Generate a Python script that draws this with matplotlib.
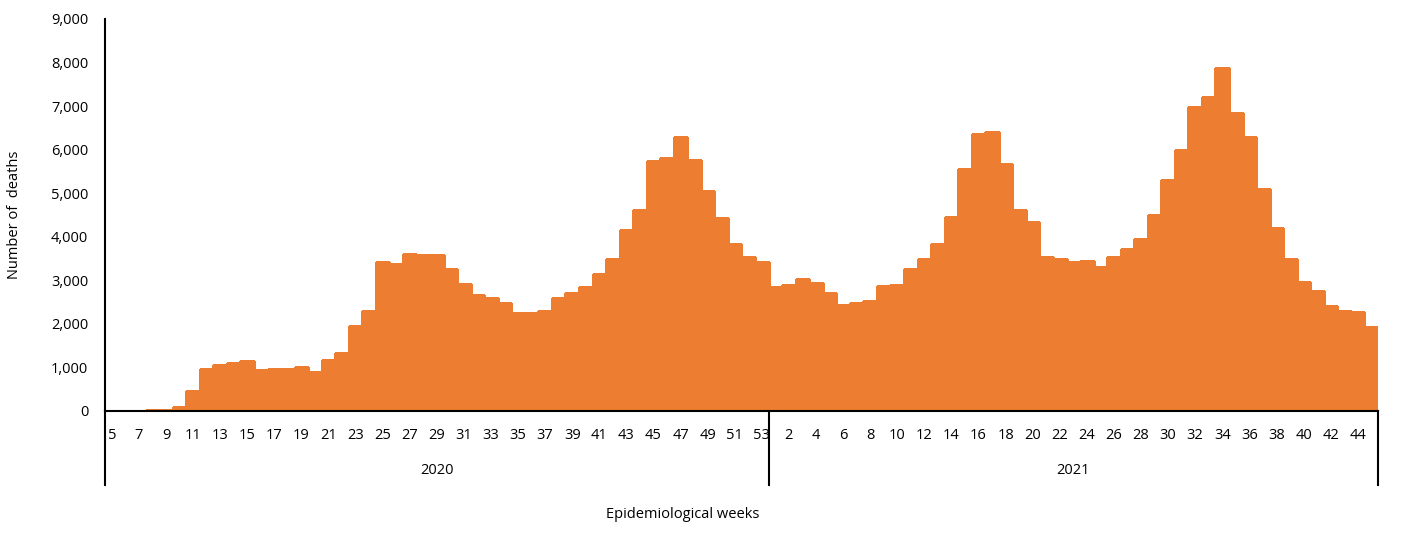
import matplotlib
matplotlib.use("Agg")
import matplotlib.pyplot as plt
from matplotlib.transforms import blended_transform_factory
from matplotlib.ticker import FuncFormatter

plt.rcParams['font.family'] = ['Open Sans', 'DejaVu Sans']

weeks_2020 = list(range(5, 54))
deaths_2020 = [0, 0, 0, 20, 30, 85, 470, 960, 1050, 1110, 1140, 930, 975, 975, 1005,
               905, 1160, 1340, 1960, 2300, 3430, 3370, 3615, 3580, 3580, 3250, 2925,
               2670, 2605, 2470, 2260, 2240, 2305, 2605, 2700, 2840, 3135, 3500, 4165,
               4625, 5730, 5820, 6300, 5770, 5060, 4420, 3845, 3525, 3410]
weeks_2021 = list(range(1, 46))
deaths_2021 = [2840, 2885, 3020, 2950, 2720, 2445, 2470, 2515, 2860, 2885, 3250, 3480,
               3825, 4465, 5545, 6350, 6395, 5660, 4625, 4330, 3525, 3500, 3410, 3455,
               3315, 3525, 3730, 3960, 4510, 5315, 6000, 6990, 7220, 7885, 6850, 6300,
               5105, 4210, 3500, 2970, 2765, 2420, 2305, 2280, 1935]
years = ["2020", "2021"]
bar_color = "#ED7D31"

W, H = 1402, 537
fig = plt.figure(figsize=(W / 100, H / 100), dpi=100)
ax = fig.add_axes([105 / W, (H - 411) / H, (1378 - 105) / W, (411 - 19) / H])

values = deaths_2020 + deaths_2021
labels = [str(w) for w in weeks_2020] + [str(w) for w in weeks_2021]
xs = list(range(len(values)))
ax.bar(xs, values, width=1.0, color=bar_color, edgecolor=bar_color, linewidth=1.0,
       antialiased=False)

ax.set_xlim(-0.5, len(values) - 0.5)
ax.set_ylim(0, 9000)
ax.set_yticks(range(0, 9001, 1000))
ax.yaxis.set_major_formatter(FuncFormatter(lambda v, p: f"{int(v):,}"))

tick_pos = [i for i, w in enumerate(weeks_2020) if w % 2 == 1] + \
           [len(weeks_2020) + i for i, w in enumerate(weeks_2021) if w % 2 == 0]
ax.set_xticks(tick_pos)
ax.set_xticklabels([labels[i] for i in tick_pos])
ax.tick_params(axis='x', length=0, pad=12, labelsize=10.5)
ax.tick_params(axis='y', length=0, pad=12, labelsize=10.5)

for s in ['top', 'right']:
    ax.spines[s].set_visible(False)
ax.spines['left'].set_linewidth(1.5)
ax.spines['bottom'].set_linewidth(1.5)
ax.spines['left'].set_zorder(5)
ax.spines['bottom'].set_zorder(5)

trans = blended_transform_factory(ax.transData, ax.transAxes)
ybot = -(485 - 411) / (411 - 19)
n20 = len(weeks_2020)
for xb in [-0.5, n20 - 0.5, len(values) - 0.5]:
    ax.plot([xb, xb], [0, ybot], color='black', lw=1.5, transform=trans, clip_on=False,
            zorder=6)

ylab = -(470 - 411) / (411 - 19)
ax.text((n20 - 1) / 2, ylab, years[0], transform=trans, ha='center', va='center', fontsize=10.5)
ax.text(n20 + (len(weeks_2021) - 1) / 2, ylab, years[1], transform=trans, ha='center', va='center', fontsize=10.5)

fig.text(683 / W, 1 - 514 / H, "Epidemiological weeks", ha='center', va='center', fontsize=10.5)
fig.text(15 / W, 1 - 215 / H, "Number of  deaths", ha='center', va='center', rotation=90, fontsize=10.5)

fig.savefig("out.png", dpi=100)
